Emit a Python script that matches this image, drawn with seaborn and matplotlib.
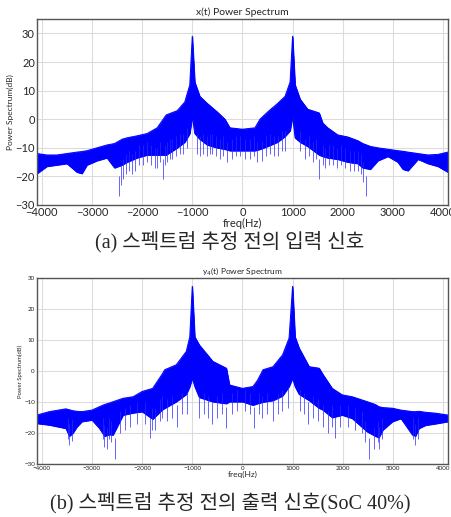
import numpy as np
import pandas as pd
import seaborn as sns
import matplotlib.pyplot as plt

# envelopes (Hz, dB)
freq_x = [-4096, -3900, -3700, -3500, -3300, -3200, -3100, -2900, -2700, -2550, -2400, -2300,
          -2100, -1900, -1700, -1600, -1520, -1300, -1150, -1050, -1000, -950, -850, -700,
          -500, -350, -250, 0, 250, 350, 500, 700, 850, 950, 1000, 1050, 1150, 1300, 1530,
          1600, 1700, 1900, 2100, 2300, 2400, 2550, 2700, 2900, 3100, 3200, 3300, 3500,
          3700, 3900, 4096]
upper_x = [-12, -12.5, -12.5, -12, -11.5, -11.3, -11, -10, -9, -8.5, -7, -6.5,
           -5.8, -5, -3, -0.5, 1.5, 3, 6, 12, 29, 13, 8, 5.5,
           2.5, 0, -3, -3.5, -3, 0, 2.5, 5.5, 8, 13, 29, 12, 7, 3.5, 2.2,
           -1.3, -3, -5.5, -6.2, -7.5, -8.5, -9.5, -10, -10.5, -11, -11.2, -11.5, -12,
           -12.5, -12.3, -11.5]
lower_x = [-19, -16.5, -16, -15.5, -18.5, -19, -16, -14.5, -13.5, -17, -16, -15,
           -13.5, -12.5, -12.5, -12.5, -12.5, -10, -8, -5, 1, -5, -7, -9,
           -10, -10.5, -11, -11, -11, -10.5, -9.5, -8, -6, -4, 1, -6.5, -8, -9.5, -12.5,
           -13, -13.5, -14, -15, -15.5, -17, -17.5, -14.5, -13, -15, -17.5, -18, -14,
           -15.5, -16.5, -18.5]
spike_f_x = [-2470, -2430, -2380, -2330, -2260, -2200, -2150, -2060, -1980, -1900, -1820,
             -1750, -1700, -1640, -1590, -1540, -1500, -1450, -1400, -1330, -1250, -1180,
             -1100, -900, -850, -780, -700, -640, -600, -520, -450, -380, -300, -200,
             -120, -50, 60, 150, 240, 300, 400, 470, 550, 620, 700, 780, 850, 1150, 1250,
             1330, 1400, 1460, 1530, 1600, 1650, 1720, 1800, 1880, 1960, 2050, 2150, 2230,
             2300, 2360, 2400, 2460]
spike_db_x = [-27, -23, -21, -19, -18, -19, -18, -16, -16, -15, -16,
              -17, -17, -15, -21, -16, -15, -14, -14, -13, -12, -12,
              -10, -12, -13, -12, -13, -12, -12, -13, -14, -13, -15, -14,
              -13, -13, -14, -14, -13, -15, -14.5, -13, -12, -13, -13, -11, -11, -11, -14,
              -13, -15, -14, -21, -16, -17, -16, -16, -17, -16, -17, -18, -18,
              -18, -19, -22, -27]

freq_y = [-4096, -3850, -3520, -3450, -3380, -3300, -3200, -3000, -2850, -2750, -2650, -2580,
          -2380, -2180, -2000, -1790, -1600, -1550, -1320, -1120, -1050, -1000, -950, -860,
          -590, -320, -258, 0, 210, 300, 410, 610, 800, 930, 1000, 1050, 1130, 1330, 1530,
          1600, 1790, 1990, 2190, 2490, 2650, 2720, 2800, 2990, 3160, 3390, 3450, 3520,
          3650, 3850, 4096]
upper_y = [-14.2, -13.1, -12.2, -12.5, -12.8, -13, -13.1, -12.6, -11.5, -10.8, -10.3, -9.9,
           -8.8, -8.3, -6.6, -5.6, -1, 0.4, 2, 6.3, 11, 27.3, 11, 8.4,
           3.1, 0.9, -4.5, -5.6, -5, -3, 0.4, 1.4, 5.2, 10.6, 27.3, 11, 7.4, 1.4, 0.9,
           -1, -5.6, -7.7, -8.3, -9.9, -10.8, -11.5, -11.8, -12, -12.6, -13.1, -13.1, -13,
           -13.3, -13.6, -14.2]
lower_y = [-16.9, -17.4, -18.5, -21, -20, -18, -16.3, -15.8, -18.5, -21, -20.5, -20.6,
           -14.2, -13.5, -13.1, -15.5, -12.5, -12, -9.9, -7.5, -5, -2.3, -5, -8.5,
           -9.9, -10.5, -9.9, -9.9, -11, -10.5, -10, -9.5, -8, -5, -2.3, -5, -7.5, -9.5, -12,
           -12.5, -15, -14.2, -15.3, -19.6, -21, -21.5, -19, -16.3, -15.3, -20.6, -21, -18.5,
           -17.5, -17, -16.3]
spike_f_y = [-3480, -3450, -3400, -2780, -2750, -2700, -2660, -2620, -2550, -2450, -2350,
             -2250, -2100, -1950, -1850, -1800, -1750, -1650, -1600, -1500, -1400, -1300,
             -1200, -1100, -860, -760, -680, -600, -500, -400, -320, -200, -100, 60,
             150, 230, 330, 400, 500, 600, 700, 780, 900, 1150, 1230, 1300, 1400, 1500,
             1600, 1700, 1780, 1850, 1950, 2100, 2250, 2380, 2450, 2530, 2620, 2700,
             2720, 2780, 3400, 3450, 3500]
spike_db_y = [-22, -24, -22.5, -22, -24.4, -25, -22, -23, -28.5, -20, -19,
              -18, -17, -17, -21.7, -19, -19, -16, -15, -16, -15, -18,
              -14, -14, -15, -14, -15, -17, -15, -14, -18.5, -14, -13, -13,
              -14, -18.5, -14, -15, -14, -16, -14, -13, -12, -13, -14, -17, -15, -16,
              -18, -20, -18, -21.7, -18, -18, -19, -20, -23, -28.5, -25, -23,
              -25, -22, -22, -24, -22]

panels = [
    ("x(t) Power Spectrum", freq_x, upper_x, lower_x, spike_f_x, spike_db_x,
     (-30, 35), 8, 6, 7.5, 8),
    ("y$_4$(t) Power Spectrum", freq_y, upper_y, lower_y, spike_f_y, spike_db_y,
     (-30, 30), 4.5, 4.2, 6, 6),
]
captions = ["(a) 스펙트럼 추정 전의 입력 신호", "(b) 스펙트럼 추정 전의 출력 신호(SoC 40%)"]

sns.set_style("whitegrid", {"grid.color": "#dcdcdc", "axes.edgecolor": "#555555"})
plt.rcParams["font.family"] = ["Lato", "DejaVu Sans"]

fig = plt.figure(figsize=(4.51, 5.17), dpi=100)
boxes = [[0.082, 0.6035, 0.911, 0.3595], [0.082, 0.1025, 0.911, 0.3598]]
blue = "#0000ff"

for box, (title, f, up, lo, sf, sdb, ylim, tick_fs, ylab_fs, title_fs, xlab_fs) in zip(boxes, panels):
    ax = fig.add_axes(box)
    df = pd.DataFrame({"freq": f, "upper": up, "lower": lo})
    ax.fill_between(df["freq"], df["lower"], df["upper"], color=blue, lw=0.6)
    sns.lineplot(data=df, x="freq", y="upper", color=blue, lw=0.7, ax=ax)
    sns.lineplot(data=df, x="freq", y="lower", color=blue, lw=0.7, ax=ax)
    ax.vlines(sf, sdb, [v + 7 for v in sdb], color="#2a2aff", lw=0.5)
    ax.set_xlim(-4096, 4096)
    ax.set_ylim(*ylim)
    ax.set_xticks(range(-4000, 4001, 1000))
    ax.set_yticks(range(-30, 31, 10))
    ax.tick_params(labelsize=tick_fs, direction="in", length=2.5, pad=1.5)
    ax.set_xlabel("freq(Hz)", fontsize=xlab_fs, labelpad=0)
    ax.set_ylabel("Power Spectrum(dB)", fontsize=ylab_fs, labelpad=1)
    ax.set_title(title, fontsize=title_fs, pad=3)
    for s in ax.spines.values():
        s.set_linewidth(1.0)

fig.text(0.51, 0.532, captions[0], ha="center", va="center", fontsize=14.5,
         family=["Liberation Serif", "Noto Sans CJK KR"])
fig.text(0.51, 0.027, captions[1], ha="center", va="center", fontsize=14.5,
         family=["Liberation Serif", "Noto Sans CJK KR"])

fig.savefig("out.png", dpi=100)
